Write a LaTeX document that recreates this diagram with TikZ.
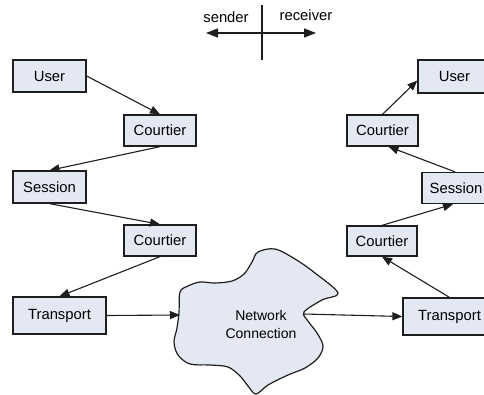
\documentclass[tikz,border=0pt]{standalone}
\usepackage{fontspec}
\setmainfont{Liberation Sans}
\usepackage{tikz}
\usepackage{xcolor}
\usetikzlibrary{arrows.meta}
\definecolor{fondboite}{RGB}{228,232,243}
\definecolor{trait}{RGB}{30,30,30}
\tikzset{
Boite/.style={
 draw=trait, 
 fill=fondboite, 
 line width=1.3pt, 
 minimum width=#1, 
 minimum height=31pt, 
 inner sep=0pt, 
 font=\fontsize{14.8}{16}\selectfont
 },
Boite/.default={72pt},
Fleche/.style={
 draw=trait, 
 line width=1.1pt, 
 -{Triangle[length=10pt,width=8pt]}
 },
DoubleFleche/.style={
 draw=trait, 
 line width=1.3pt, 
 {Triangle[length=12pt,width=9pt]}-{Triangle[length=12pt,width=9pt]}
 },
Nuage/.style={
 draw=trait, 
 fill=fondboite, 
 line width=1.2pt
 },
Etiquette/.style={
 font=\fontsize{14.8}{16}\selectfont, 
 inner sep=0pt
 }
}

\begin{document}
\begin{tikzpicture}[x=1pt,y=-1pt]
\useasboundingbox (0,0) rectangle (484,394);
% sender / receiver
\coordinate (axeHaut) at (262,5);
\coordinate (axeBas) at (262,60);
\coordinate (flecheG) at (206,33);
\coordinate (flecheD) at (316,33);
\draw[draw=trait,line width=1.3pt] (axeHaut) -- (axeBas);
\draw[DoubleFleche] (flecheG) -- (flecheD);
\node[Etiquette] (sender) at (226,17) {sender};
\node[Etiquette] (receiver) at (306,15) {receiver};
% pile de gauche
\node[Boite={73pt},minimum height=32pt] (userG) at (49.5,76) {User};
\node[Boite] (courtierG1) at (160,130.5) {Courtier};
\node[Boite={73pt},minimum height=32pt] (sessionG) at (49.5,187) {Session};
\node[Boite] (courtierG2) at (160,240.5) {Courtier};
\node[Boite={93pt},minimum height=37pt] (transportG) at (59.5,315.5) {Transport};
% pile de droite
\node[Boite={73pt},minimum height=33pt] (userD) at (454.5,76.5) {User};
\node[Boite={71pt}] (courtierD1) at (382.5,130.5) {Courtier};
\node[Boite={68pt},minimum height=31pt] (sessionD) at (456,188) {Session};
\node[Boite={70pt},minimum height=30pt] (courtierD2) at (382,241) {Courtier};
\node[Boite={93pt},minimum height=37pt] (transportD) at (449.5,316.5) {Transport};
% nuage
\draw[Nuage] plot[smooth cycle,tension=0.55] coordinates {
 (180,292) (188,286) (200,282) (215,283) (232,281) (244,274) (252,262)
 (258,252) (275,249) (295,259) (315,273) (338,293) (322,300) (304,312)
 (308,321) (317,333) (323,346) (318,358) (305,368) (288,375) (268,385)
 (256,394) (248,386) (240,376) (228,367) (210,365) (190,364) (178,355)
 (174,342) (177,328) (179,312)};
\node[font=\fontsize{14}{18}\selectfont,align=center,inner sep=0pt] (reseau) at (261,324) {Network\\Connection};
\coordinate (reseauG) at (180,315);
\coordinate (reseauD) at (304,314);
% liaisons
\draw[Fleche] (userG.east) -- (courtierG1.north);
\draw[Fleche] (courtierG1.south) -- (sessionG.north);
\draw[Fleche] (sessionG.south) -- (courtierG2.north);
\draw[Fleche] (courtierG2.south) -- (transportG.north);
\draw[Fleche] (transportG.east) -- (reseauG);
\draw[Fleche] (reseauD) -- (transportD.west);
\draw[Fleche] (transportD.north) -- (courtierD2.south);
\draw[Fleche] (courtierD2.north) -- ([xshift=-3pt]sessionD.south);
\draw[Fleche] ([xshift=-1pt]sessionD.north) -- ([xshift=6pt]courtierD1.south);
\draw[Fleche] (courtierD1.north) -- ([yshift=-4pt]userD.west);
\end{tikzpicture}
\end{document}
